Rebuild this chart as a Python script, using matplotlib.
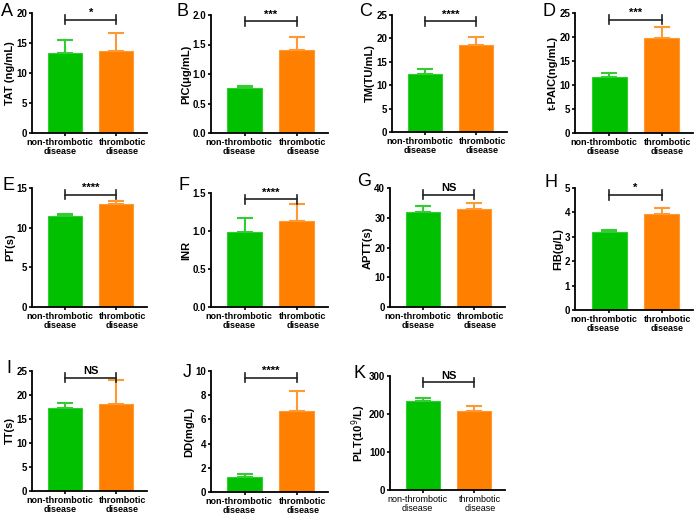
import numpy as np
import matplotlib.pyplot as plt

plt.rcParams['font.family'] = ['Liberation Sans', 'DejaVu Sans']

groups = ['non-thrombotic\ndisease', 'thrombotic\ndisease']
letters = ['A', 'B', 'C', 'D', 'E', 'F', 'G', 'H', 'I', 'J', 'K']
ylabels = ['TAT (ng/mL)', 'PIC(\u03bcg/mL)', 'TM(TU/mL)', 't-PAIC(ng/mL)',
           'PT(s)', 'INR', 'APTT(s)', 'FIB(g/L)',
           'TT(s)', 'DD(mg/L)', 'PLT(10$^9$/L)']
means = [[13.3, 13.7], [0.76, 1.40], [12.4, 18.6], [11.6, 19.7],
         [11.5, 13.0], [0.99, 1.13], [31.8, 32.8], [3.18, 3.92],
         [17.3, 18.1], [1.2, 6.7], [234, 207]]
errs = [[2.2, 3.0], [0.04, 0.22], [1.0, 1.7], [0.8, 2.3],
        [0.2, 0.4], [0.18, 0.22], [2.0, 2.0], [0.1, 0.28],
        [1.1, 5.0], [0.25, 1.65], [8, 14]]
ymax = [20, 2.0, 25, 25, 15, 1.5, 40, 5, 25, 10, 300]
ystep = [5, 0.5, 5, 5, 5, 0.5, 10, 1, 5, 2, 100]
tickfmt = ['%d', '%.1f', '%d', '%d', '%d', '%.1f', '%d', '%d', '%d', '%d', '%d']
signif = ['*', '***', '****', '***', '****', '****', 'NS', '*', 'NS', '****', 'NS']

# axes boxes in pixels: left, top, right, bottom
boxes = [(32, 13, 147, 133), (211, 15, 328, 133), (392, 15, 507, 132), (575, 13, 693, 133),
         (32, 188, 147, 307), (211, 193, 328, 307), (390, 188, 505, 307), (575, 188, 693, 310),
         (32, 371, 147, 491), (211, 371, 328, 492), (390, 376, 505, 490)]
letter_pos = [(1, 3), (177, 3), (359, 3), (542, 3),
              (2, 177), (179, 177), (357, 173), (544, 174),
              (6, 360), (183, 364), (354, 365)]

W, H = 700, 516
colors = ['#00C000', '#FF8000']
ecolors = ['#33CC33', '#FF9933']

fig = plt.figure(figsize=(7, 5.16), dpi=100)

for i in range(11):
    l, t, r, b = boxes[i]
    ax = fig.add_axes([l / W, 1 - b / H, (r - l) / W, (b - t) / H])
    x = np.arange(2)
    ax.bar(x, means[i], width=0.67, color=colors, edgecolor=ecolors, linewidth=0.8, zorder=2)
    for j in range(2):
        ax.errorbar(x[j], means[i][j], yerr=[[0], [errs[i][j]]], color=ecolors[j],
                    capsize=6, elinewidth=1.5, capthick=1.5, zorder=1)
    ax.set_xlim(-0.65, 1.6)
    ax.set_ylim(0, ymax[i])
    ticks = np.arange(0, ymax[i] + ystep[i] / 2, ystep[i])
    ax.set_yticks(ticks)
    ax.set_yticklabels([tickfmt[i] % v for v in ticks], fontweight='bold', fontsize=7)
    ax.set_xticks(x)
    ax.set_xticklabels(['', ''])
    # group names sit a little apart from the bar centres
    xw = 'normal' if i == 10 else 'bold'
    for j, dx in zip(range(2), [-4.0, 4.2]):
        ax.annotate(groups[j], xy=(x[j], 0), xycoords=('data', 'axes fraction'),
                    xytext=(dx, -3.5), textcoords='offset points', ha='center', va='top',
                    fontsize=6.5, fontweight=xw, linespacing=1.0)
    ax.set_ylabel(ylabels[i], fontsize=8, fontweight='bold', labelpad=1)
    for s in ['top', 'right']:
        ax.spines[s].set_visible(False)
    for s in ['left', 'bottom']:
        ax.spines[s].set_linewidth(1.3)
    ax.tick_params(width=1.2, length=2.5, pad=1)
    # significance bracket
    h = ymax[i] * 0.945
    d = ymax[i] * 0.04
    ax.plot([0, 1], [h, h], color='#222222', lw=1.2, clip_on=False)
    ax.plot([0, 0], [h - d, h + d], color='#222222', lw=1.2, clip_on=False)
    ax.plot([1, 1], [h - d, h + d], color='#222222', lw=1.2, clip_on=False)
    ax.text(0.5, h + ymax[i] * 0.015, signif[i], ha='center', va='bottom',
            fontsize=8, fontweight='bold', clip_on=False)
    lx, ly = letter_pos[i]
    fig.text(lx / W, 1 - ly / H, letters[i], ha='left', va='top', fontsize=13)

fig.savefig('out.png', dpi=100)
